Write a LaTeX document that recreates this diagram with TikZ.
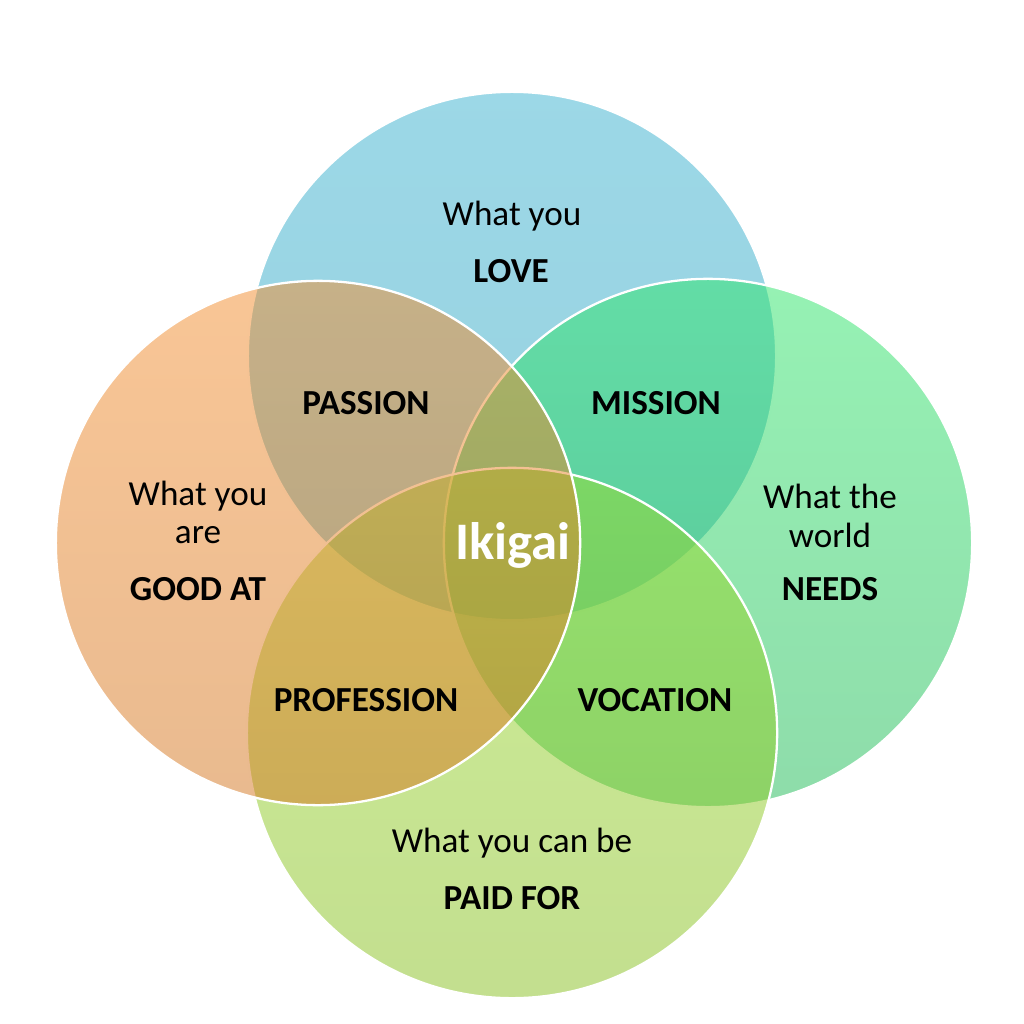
\documentclass[tikz,border=0pt]{standalone}
\usepackage{fontspec}
\setmainfont{Carlito}
\definecolor{blueT}{RGB}{57,177,207}
\definecolor{blueB}{RGB}{47,163,191}
\definecolor{orangeT}{RGB}{243,141,45}
\definecolor{orangeB}{RGB}{211,117,31}
\definecolor{greenT}{RGB}{45,229,105}
\definecolor{greenB}{RGB}{29,185,85}
\definecolor{limeT}{RGB}{155,219,45}
\definecolor{limeB}{RGB}{135,191,31}
\tikzset{
  venn/.style={fill opacity=0.5},
  rim/.style={draw=white,line width=0.65pt},
  lab/.style={font=\fontsize{10}{12}\selectfont,text=black,inner sep=0pt},
  head/.style={font=\fontsize{10}{12}\selectfont\bfseries,text=black,inner sep=0pt},
  core/.style={font=\fontsize{15}{18}\selectfont\bfseries,text=white,inner sep=0pt}
}
\begin{document}
\begin{tikzpicture}[x=0.01cm,y=-0.01cm]
\useasboundingbox (0,0) rectangle (1024,1024);
% centres
\coordinate (cT) at (512,356);
\coordinate (cR) at (708,543);
\coordinate (cB) at (512,733);
\coordinate (cL) at (318,543);
% top (blue)
\shade[venn,top color=blueT,bottom color=blueB] (cT) circle[radius=2.64cm];
\draw[rim] (cT) circle[radius=2.64cm];
% right (green)
\shade[venn,top color=greenT,bottom color=greenB] (cR) circle[radius=2.64cm];
\draw[rim] (cR) circle[radius=2.64cm];
% bottom (lime)
\shade[venn,top color=limeT,bottom color=limeB] (cB) circle[radius=2.65cm];
\draw[rim] (cB) circle[radius=2.65cm];
% left (orange)
\shade[venn,top color=orangeT,bottom color=orangeB] (cL) circle[radius=2.62cm];
\draw[rim] (cL) circle[radius=2.62cm];
% labels
\node[lab]  (love1) at (512,216) {What you};
\node[head] (love2) at (511,271) {LOVE};
\node[head] (passion) at (366,403) {PASSION};
\node[head] (mission) at (656,403) {MISSION};
\node[lab]  (good1) at (198,496) {What you};
\node[lab]  (good2) at (198,535) {are};
\node[head] (good3) at (198,589) {GOOD AT};
\node[lab]  (need1) at (830,496) {What the};
\node[lab]  (need2) at (830,535) {world};
\node[head] (need3) at (830,589) {NEEDS};
\node[core] (ikigai) at (513,545) {Ikigai};
\node[head] (profession) at (366,700) {PROFESSION};
\node[head] (vocation) at (655,700) {VOCATION};
\node[lab]  (paid1) at (512,843) {What you can be};
\node[head] (paid2) at (512,898) {PAID FOR};
\end{tikzpicture}
\end{document}
